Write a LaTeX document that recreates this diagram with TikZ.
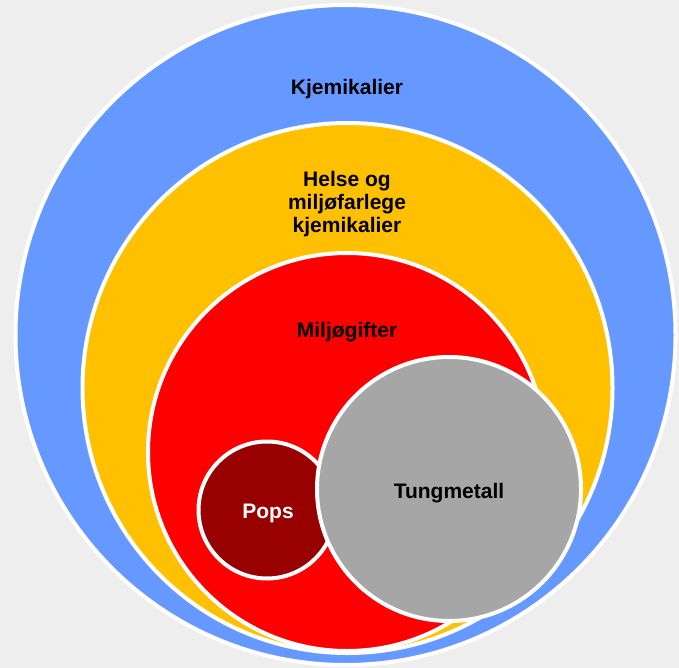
\documentclass[tikz,border=0pt]{standalone}
\usepackage{fontspec}
\setmainfont{Liberation Sans}
\usepackage{tikz}

\definecolor{bggray}{HTML}{EEEEEE}
\definecolor{kjemblue}{HTML}{6699FF}
\definecolor{farlegyellow}{HTML}{FFC000}
\definecolor{giftred}{HTML}{FF0000}
\definecolor{popsred}{HTML}{990000}
\definecolor{metallgray}{HTML}{A6A6A6}

\tikzset{
  ring/.style={shape=circle, draw=white, line width=4pt, inner sep=0pt},
  lbl/.style={font=\bfseries\fontsize{21}{23}\selectfont, align=center}
}

\begin{document}
\begin{tikzpicture}[x=1pt,y=-1pt]
\fill[bggray] (0,0) rectangle (679,668);
\useasboundingbox (0,0) rectangle (679,668);

\node[ring, fill=kjemblue, minimum size=660pt](kjem) at (345.5,335) {};
\node[ring, fill=farlegyellow, minimum size=530pt](farleg) at (347.5,388) {};
\node[ring, fill=giftred, minimum size=398pt](gift) at (347,452) {};
\node[ring, fill=popsred, minimum size=137pt](pops) at (267,510) {};
\node[ring, fill=metallgray, minimum size=264pt](metall) at (449,489) {};

\node[lbl, anchor=base](kjemtxt) at (347,95) {Kjemikalier};
\node[lbl](farlegtxt) at (347,203.6) {Helse og\\miljøfarlege\\kjemikalier};
\node[lbl, anchor=base](gifttxt) at (347,337) {Miljøgifter};
\node[lbl, anchor=base, text=white](popstxt) at (268,518) {Pops};
\node[lbl, anchor=base](metalltxt) at (449,498) {Tungmetall};
\end{tikzpicture}
\end{document}
